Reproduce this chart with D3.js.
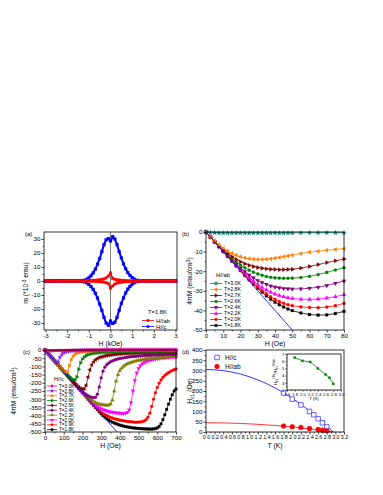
<!DOCTYPE html>
<html>
<head>
<meta charset="utf-8">
<script src="https://cdn.jsdelivr.net/npm/d3@7"></script>
<style>
  body { margin: 0; background: #fff; }
  svg { display: block; }
</style>
</head>
<body>
<svg id="fig" width="383" height="495"></svg>
<script>
// ---------- panel (a): m vs H at 1.8 K ----------
const hA = [-3,-2.9,-2.8,-2.7,-2.6,-2.5,-2.4,-2.3,-2.2,-2.1,-2,-1.9,-1.8,-1.7,-1.6,-1.5,-1.4,-1.3,-1.2,-1.1,
  -1,-0.9,-0.8,-0.7,-0.6,-0.5,-0.4,-0.3,-0.2,-0.1,0,0.1,0.2,0.3,0.4,0.5,0.6,0.7,0.8,0.9,
  1,1.1,1.2,1.3,1.4,1.5,1.6,1.7,1.8,1.9,2,2.1,2.2,2.3,2.4,2.5,2.6,2.7,2.8,2.9,3];
const mBlueUp = [0,0,0,0,0,0,0,0,0,0,0,0,0,0,0,0,0,
  0.2,0.5,1.2,2.3,3.8,5.8,8.5,12,16,21,26,29.5,30.3,
  28.6,
  31.6,30,26,21,16.5,12.2,8.8,6,4,2.5,1.3,0.6,0.2,
  0,0,0,0,0,0,0,0,0,0,0,0,0,0,0,0,0];
const mBlueDown = [0,0,0,0,0,0,0,0,0,0,0,0,0,0,0,0,0,
  -0.2,-0.6,-1.3,-2.5,-4,-6,-8.8,-12.2,-16.5,-21,-26,-30,-31.6,
  -28.6,
  -30.3,-29.5,-26,-21,-16,-12,-8.5,-5.8,-3.8,-2.3,-1.2,-0.5,-0.2,
  0,0,0,0,0,0,0,0,0,0,0,0,0,0,0,0,0];
const mRedUp = [0,0,0,0,0,0,0,0,0,0,0,0,0,0,0,0,0,0,0,0,
  0.2,0.3,0.4,0.5,0.7,0.9,1.1,1.5,2.2,3.5,
  5.8,
  1.8,1.2,0.9,0.7,0.5,0.4,0.3,0.2,0.1,0.1,
  0,0,0,0,0,0,0,0,0,0,0,0,0,0,0,0,0,0,0,0];
const mRedDown = [0,0,0,0,0,0,0,0,0,0,0,0,0,0,0,0,0,0,0,0,
  -0.1,-0.1,-0.2,-0.3,-0.4,-0.5,-0.7,-0.9,-1.2,-1.8,
  -5.2,
  -3.5,-2.2,-1.5,-1.1,-0.9,-0.7,-0.5,-0.4,-0.3,-0.2,
  0,0,0,0,0,0,0,0,0,0,0,0,0,0,0,0,0,0,0,0];
const ticksAx = [-3,-2,-1,0,1,2,3];
const ticksAy = [-30,-20,-10,0,10,20,30];

// ---------- panel (b): 4piM vs H, H//ab ----------
const hB = [0,2.5,5,7.5,10,12.5,15,17.5,20,22.5,25,27.5,30,32.5,35,37.5,40,42.5,45,47.5,50,55,60,65,70,75,80];
const mB30 = [0,-0.3,-0.4,-0.5,-0.5,-0.5,-0.5,-0.5,-0.5,-0.5,-0.5,-0.5,-0.5,-0.5,-0.5,-0.5,-0.5,-0.5,-0.5,-0.5,-0.5,-0.4,-0.4,-0.4,-0.4,-0.4,-0.4];
const mB28 = [0,-2.4,-4.6,-6.5,-8.2,-9.6,-10.8,-11.8,-12.6,-13.2,-13.6,-13.9,-14,-14,-13.9,-13.7,-13.4,-13,-12.6,-12.2,-11.8,-11,-10.3,-9.8,-9.3,-8.9,-8.5];
const mB27 = [0,-2.5,-4.9,-7.1,-9.2,-11,-12.6,-14,-15.2,-16.2,-17,-17.6,-18.1,-18.5,-18.8,-19,-19.1,-19.2,-19.2,-19.1,-19,-18.4,-17.6,-16.6,-15.6,-14.7,-13.8];
const mB26 = [0,-2.5,-5,-7.3,-9.5,-11.6,-13.5,-15.3,-16.9,-18.3,-19.5,-20.5,-21.4,-22.1,-22.7,-23.1,-23.4,-23.5,-23.6,-23.6,-23.5,-23.2,-22.6,-21.7,-20.6,-19.4,-18.2];
const mB24 = [0,-2.5,-5,-7.4,-9.8,-12.1,-14.3,-16.4,-18.4,-20.2,-21.9,-23.4,-24.7,-25.8,-26.7,-27.5,-28.1,-28.5,-28.8,-29,-29.1,-29,-28.7,-28.2,-27.3,-26.2,-25];
const mB22 = [0,-2.5,-5,-7.5,-9.9,-12.3,-14.6,-16.9,-19.1,-21.2,-23.2,-25.1,-26.8,-28.3,-29.6,-30.7,-31.6,-32.4,-33,-33.5,-33.9,-34.3,-34.4,-34.2,-33.7,-33,-32];
const mB20 = [0,-2.5,-5,-7.5,-10,-12.4,-14.8,-17.2,-19.5,-21.8,-24,-26.1,-28.1,-29.9,-31.6,-33.1,-34.4,-35.5,-36.4,-37.1,-37.6,-38.2,-38.5,-38.6,-38.3,-37.6,-36.4];
const mB18 = [0,-2.5,-5,-7.5,-10,-12.5,-14.9,-17.3,-19.7,-22.1,-24.4,-26.6,-28.7,-30.7,-32.6,-34.3,-35.8,-37.1,-38.3,-39.3,-40.1,-41.3,-42.1,-42.4,-42.3,-41.6,-40.5];
const meissnerB = { h: [0, 50], m: [0, -50] };
const ticksBx = [0,10,20,30,40,50,60,70,80];
const ticksBy = [0,-10,-20,-30,-40,-50];

// ---------- panel (c): 4piM vs H, H//c ----------
const hC = [0,10,20,30,40,50,60,70,80,90,100,110,120,130,140,150,160,170,180,190,200,210,220,230,240,250,
  260,270,280,290,300,310,320,330,340,350,360,370,380,390,400,410,420,430,440,450,460,470,480,490,500,
  510,520,530,540,550,560,570,580,590,600,610,620,630,640,650,660,670,680,690,700];
const mC30 = [0,-4,-5,-5,-5,-4,-4,-3,-3,-3,-3,
  -2,-2,-2,-2,-2,-2,-2,-2,-2,-2,
  -1,-1,-1,-1,-1,-1,-1,-1,-1,-1,
  0,0,0,0,0,0,0,0,0,0,0,0,0,0,0,0,0,0,0,0,0,0,0,0,0,0,0,0,0,0,0,0,0,0,0,0,0,0,0,0];
const mC28 = [0,-13,-26,-39,-51,-63,-76,-72,-45,-27,-17,-12,-9,-7,-5,-4,-3,-3,-2,-2,-2,
  -1,-1,-1,-1,-1,-1,-1,-1,-1,-1,
  0,0,0,0,0,0,0,0,0,0,0,0,0,0,0,0,0,0,0,0,0,0,0,0,0,0,0,0,0,0,0,0,0,0,0,0,0,0,0,0];
const mC27 = [0,-13,-26,-39,-52,-65,-78,-91,-103,-115,-126,-136,-132,-95,-58,-38,-27,-20,-16,-13,-11,-9,-8,-7,-6,-6,-5,-5,
  -4,-4,-4,-4,-4,-4,-4,-4,-4,
  -3,-3,-3,-3,-3,-3,-3,-3,-3,-3,-3,-3,-3,-3,-3,
  -2,-2,-2,-2,-2,-2,-2,-2,-2,-2,-2,-2,-2,-2,-2,-2,-2,-2,-2];
const mC26 = [0,-13,-26,-39,-52,-65,-78,-91,-104,-117,-129,
  -140,-152,-163,-174,-182,-183,-165,-118,-78,-55,-42,-34,-29,-25,-22,-20,-18,-17,-16,-15,
  -14,-14,-13,-13,-12,-12,-11,-11,-11,-10,
  -10,-10,-9,-9,-9,-9,-9,-8,-8,-8,-8,-8,-8,-7,-7,
  -7,-7,-7,-7,-7,-6,-6,-6,-6,-6,-6,-6,-6,-6,-6];
const mC25 = [0,-13,-26,-39,-52,-65,-78,-91,-104,-117,-130,-143,-156,-169,-182,
  -193,-204,-215,-225,-233,-238,-236,-215,-165,-120,-90,-72,-60,-52,-46,-42,
  -39,-36,-34,-32,-30,-29,-27,-26,-25,-24,
  -23,-22,-21,-21,-20,-19,-19,-18,-18,-17,-17,-16,-16,-15,-15,
  -15,-14,-14,-14,-13,-13,-13,-12,-12,-12,-12,-11,-11,-11,-11];
const mC24 = [0,-13,-26,-39,-52,-65,-78,-91,-104,-117,-130,-143,-156,-169,-182,-195,-208,-221,
  -233,-244,-255,-264,-272,-279,-285,-289,-291,-288,-270,-225,-170,-130,-105,-90,-80,-72,
  -67,-62,-58,-55,-52,-50,-48,-46,-44,-42,-41,-40,-39,-38,-37,
  -36,-35,-34,-34,-33,-32,-32,-31,-31,-30,-30,-29,-29,-28,-28,-28,-27,-27,-27,-26];
const mC22 = [0,-13,-26,-39,-52,-65,-78,-91,-104,-117,-130,-143,-156,-169,-182,-195,-208,-221,-234,-247,-260,
  -271,-281,-291,-300,-308,-315,-321,-326,-330,-333,-335,-336,-337,-336,-330,-305,-250,-190,-150,-125,
  -110,-99,-91,-85,-80,-76,-72,-69,-66,-63,-61,-59,-57,-55,-53,
  -52,-51,-50,-49,-48,-47,-46,-45,-44,-43,-42,-42,-41,-40,-40];
const mC20 = [0,-13,-26,-39,-52,-65,-78,-91,-104,-117,-130,-143,-156,-169,-182,-195,-208,-221,-234,-247,-260,-273,-286,-299,
  -310,-320,-329,-337,-344,-351,-357,-362,-367,-371,-374,-377,-379,-381,-383,-384,-385,-386,-386,-385,
  -380,-365,-320,-250,-185,-140,-112,
  -95,-84,-76,-70,-66,-62,-59,-57,-55,-53,-51,-50,-49,-48,-47,-46,-45,-44,-43,-43];
const mC19 = [0,-13,-26,-39,-52,-65,-78,-91,-104,-117,-130,-143,-156,-169,-182,-195,-208,-221,-234,-247,-260,-273,-286,-299,-312,-325,-338,
  -350,-361,-371,-380,-388,-395,-401,-406,-411,-415,
  -419,-422,-425,-428,-430,-432,-434,-436,-437,-438,
  -439,-440,-440,-440,-439,-437,-433,-425,-410,-385,
  -345,-300,-260,-228,-203,-183,-168,-156,-146,-138,
  -131,-125,-120,-116];
const mC18 = [0,-13,-26,-39,-52,-65,-78,-91,-104,-117,-130,-143,-156,-169,-182,-195,-208,-221,-234,-247,-260,-273,-286,-299,-312,-325,-338,-351,-364,-377,
  -389,-400,-410,-419,-427,-434,-440,-445,-450,-454,
  -458,-461,-464,-467,-469,-471,-473,-475,-476,-477,
  -478,-479,-480,-481,-481,-482,-482,-482,-481,-479,
  -475,-466,-450,-425,-395,-362,-330,-300,-273,-250,
  -238];
const meissnerC = { h: [0, 385], m: [0, -500] };
const ticksCx = [0,100,200,300,400,500,600,700];
const ticksCy = [0,-50,-100,-150,-200,-250,-300,-350,-400,-450,-500];

// ---------- panel (d): Hc1 vs T ----------
const tHc = [1.8,2.0,2.2,2.4,2.5,2.6,2.7,2.8];
const hc1C = [190,160,132,100,84,65,45,25];
const tHab = [1.8,2.0,2.2,2.4,2.6,2.7,2.8];
const hc1Ab = [29,26,22,17,12,9,6];
const tFit = [0,0.4,0.8,1.2,1.6,2.0,2.4,2.6,2.8,2.95];
const fitC = [305,299.4,282.6,254.5,215.3,164.8,103.1,68.1,30.2,0];
const fitAb = [45,44.2,41.7,37.6,31.8,24.3,15.2,10,4.5,0];
const ticksDx = [0,0.2,0.4,0.6,0.8,1.0,1.2,1.4,1.6,1.8,2.0,2.2,2.4,2.6,2.8,3.0,3.2];
const ticksDy = [0,50,100,150,200,250,300,350,400];
// inset: anisotropy ratio
const tRatio = [1.8,2.0,2.2,2.4,2.6,2.7,2.8];
const ratio = [6.5,6.05,5.9,5.0,4.15,3.7,2.85];
const ticksIx = [1.6,1.8,2.0,2.2,2.4,2.6,2.8,3.0];
const ticksIy = [2,3,4,5,6,7];

const FONT = "'Liberation Sans', Arial, sans-serif";
const svg = d3.select("#fig");

// scales
const xA = d3.scaleLinear().domain([-3.07, 3.07]).range([44, 177]);
const yA = d3.scaleLinear().domain([-35, 35]).range([330, 232]);
const xB = d3.scaleLinear().domain([0, 80]).range([206, 344]);
const yB = d3.scaleLinear().domain([-50, 0]).range([330, 232]);
const xC = d3.scaleLinear().domain([0, 700]).range([45, 176]);
const yC = d3.scaleLinear().domain([-500, 0]).range([432, 350]);
const xD = d3.scaleLinear().domain([0, 3.2]).range([206, 344]);
const yD = d3.scaleLinear().domain([0, 400]).range([432, 350]);
const xI = d3.scaleLinear().domain([1.6, 3.0]).range([287, 341]);
const yI = d3.scaleLinear().domain([2, 7]).range([390, 354]);

function minorOf(ticks) {
  const out = [];
  for (let i = 0; i < ticks.length - 1; i++) out.push((ticks[i] + ticks[i + 1]) / 2);
  return out;
}

function axes(x, y, xt, yt, opt = {}) {
  const fs = opt.fs || 6.2;
  const bottom = y.range()[0], left = x.range()[0];
  const parts = [
    svg.append("g").attr("transform", `translate(0,${bottom})`)
      .call(d3.axisBottom(x).tickValues(xt).tickSize(opt.tick || 2.6).tickSizeOuter(0).tickPadding(1)
        .tickFormat(opt.xFmt || (d => d))),
    svg.append("g").attr("transform", `translate(0,${bottom})`)
      .call(d3.axisBottom(x).tickValues(minorOf(xt)).tickSize(opt.minor || 1.4).tickSizeOuter(0).tickFormat("")),
    svg.append("g").attr("transform", `translate(${left},0)`)
      .call(d3.axisLeft(y).tickValues(yt).tickSize(opt.tick || 2.6).tickSizeOuter(0).tickPadding(1)
        .tickFormat(opt.yFmt || (d => d))),
    svg.append("g").attr("transform", `translate(${left},0)`)
      .call(d3.axisLeft(y).tickValues(minorOf(yt)).tickSize(opt.minor || 1.4).tickSizeOuter(0).tickFormat(""))
  ];
  parts.forEach(g => {
    g.attr("font-size", fs).attr("font-family", FONT);
    g.select(".domain").remove();
    g.selectAll("line").attr("stroke", "#000").attr("stroke-width", 0.7);
    g.selectAll("text").attr("fill", "#000");
  });
  if (opt.xFs) parts[0].attr("font-size", opt.xFs);
  svg.append("rect")
    .attr("x", x.range()[0]).attr("y", y.range()[1])
    .attr("width", x.range()[1] - x.range()[0])
    .attr("height", y.range()[0] - y.range()[1])
    .attr("fill", "none").attr("stroke", "#000").attr("stroke-width", 0.8);
}

const rot = { triUp: 0, triDown: 180, triLeft: -90, triRight: 90 };
function symType(shape) {
  if (shape.startsWith("tri")) return d3.symbolTriangle;
  return { square: d3.symbolSquare, circle: d3.symbolCircle, star: d3.symbolStar, diamond: d3.symbolDiamond }[shape];
}

function series(xs, ys, x, y, s) {
  const pts = xs.map((v, i) => [v, ys[i]]);
  const g = svg.append("g");
  if (s.lw !== 0) {
    g.append("path").datum(pts)
      .attr("fill", "none").attr("stroke", s.color).attr("stroke-width", s.lw || 0.8)
      .attr("d", d3.line().x(d => x(d[0])).y(d => y(d[1])).curve(s.curve || d3.curveLinear));
  }
  if (s.shape) {
    g.selectAll(null).data(pts).enter().append("path")
      .attr("d", d3.symbol().type(symType(s.shape)).size(s.size || 8))
      .attr("transform", d => `translate(${x(d[0])},${y(d[1])}) rotate(${rot[s.shape] || 0})`)
      .attr("fill", s.open ? "#fff" : s.color)
      .attr("stroke", s.color).attr("stroke-width", s.open ? 0.8 : 0.2);
  }
}

function legendItem(x, y, s, label, len, fs, size) {
  svg.append("line").attr("x1", x).attr("x2", x + len).attr("y1", y).attr("y2", y)
    .attr("stroke", s.color).attr("stroke-width", 0.8);
  svg.append("path").attr("d", d3.symbol().type(symType(s.shape)).size(size || 7)())
    .attr("transform", `translate(${x + len / 2},${y}) rotate(${rot[s.shape] || 0})`)
    .attr("fill", s.color).attr("stroke", s.color).attr("stroke-width", 0.2);
  svg.append("text").attr("x", x + len + 2).attr("y", y + fs * 0.36).attr("font-size", fs)
    .attr("font-family", FONT).text(label);
}

function text(x, y, str, fs, anchor = "start") {
  return svg.append("text").attr("x", x).attr("y", y).attr("font-size", fs)
    .attr("font-family", FONT).attr("text-anchor", anchor).text(str);
}

function yTitle(x, yc, build, fs = 6.8) {
  const t = svg.append("text").attr("transform", `translate(${x},${yc}) rotate(-90)`)
    .attr("text-anchor", "middle").attr("font-size", fs).attr("font-family", FONT);
  build(t);
  return t;
}

function emuTitle(t) {
  t.append("tspan").text("4\u03c0M (emu/cm");
  t.append("tspan").attr("dy", -2.4).attr("font-size", 4.8).text("3");
  t.append("tspan").attr("dy", 2.4).text(")");
}

// ================= panel (a) =================
svg.append("line").attr("x1", xA(0)).attr("x2", xA(0)).attr("y1", yA(35)).attr("y2", yA(-35))
  .attr("stroke", "#808080").attr("stroke-width", 1);
const blueA = { color: "#0000FF", shape: "square", size: 9, lw: 2 };
const redA = { color: "#FF0000", shape: "square", size: 7, lw: 1.6 };
series(hA, mBlueUp, xA, yA, blueA);
series(hA, mBlueDown, xA, yA, blueA);
series(hA, mRedUp, xA, yA, redA);
series(hA, mRedDown, xA, yA, redA);
axes(xA, yA, ticksAx, ticksAy);
text(148, 314, "T=1.8K", 5.8);
legendItem(142, 320.5, { color: "#FF0000", shape: "square" }, "H//ab", 12, 5.8, 6);
legendItem(142, 326.5, { color: "#0000FF", shape: "square" }, "H//c", 12, 5.8, 6);
text(25, 236, "(a)", 6);
text(110.5, 345.5, "H (kOe)", 6.8, "middle");
yTitle(28, 283, t => {
  t.append("tspan").text("m (*10");
  t.append("tspan").attr("dy", -2.4).attr("font-size", 4.8).text("-3");
  t.append("tspan").attr("dy", 2.4).text(" emu)");
});

// ================= panel (b) =================
const bStyle = [
  { label: "T=3.0K", color: "#008080", shape: "star", m: mB30 },
  { label: "T=2.8K", color: "#FF8000", shape: "triLeft", m: mB28 },
  { label: "T=2.7K", color: "#800000", shape: "triRight", m: mB27 },
  { label: "T=2.6K", color: "#008000", shape: "circle", m: mB26 },
  { label: "T=2.4K", color: "#800080", shape: "triDown", m: mB24 },
  { label: "T=2.2K", color: "#FF00FF", shape: "triUp", m: mB22 },
  { label: "T=2.0K", color: "#FF0000", shape: "circle", m: mB20 },
  { label: "T=1.8K", color: "#000000", shape: "square", m: mB18 }
];
bStyle.slice().reverse().forEach(s => series(hB, s.m, xB, yB, { ...s, size: 8 }));
series(meissnerB.h, meissnerB.m, xB, yB, { color: "#0000FF", lw: 0.8 });
axes(xB, yB, ticksBx, ticksBy);
text(216, 277, "H//ab", 5.8);
bStyle.forEach((s, i) => legendItem(210, 283.5 + i * 6, s, s.label, 12, 5.2));
text(182, 236, "(b)", 6);
text(275, 345.5, "H (Oe)", 6.8, "middle");
yTitle(192, 281, emuTitle);

// ================= panel (c) =================
const cStyle = [
  { label: "T=3.0K", color: "#FF0080", shape: "square", m: mC30 },
  { label: "T=2.8K", color: "#8A2BE2", shape: "star", m: mC28 },
  { label: "T=2.7K", color: "#FF8000", shape: "square", m: mC27 },
  { label: "T=2.6K", color: "#008000", shape: "triRight", m: mC26 },
  { label: "T=2.5K", color: "#800000", shape: "triLeft", m: mC25 },
  { label: "T=2.4K", color: "#800080", shape: "circle", m: mC24 },
  { label: "T=2.2K", color: "#808000", shape: "triUp", m: mC22 },
  { label: "T=2.0K", color: "#FF00FF", shape: "triDown", m: mC20 },
  { label: "T=1.9K", color: "#FF0000", shape: "circle", m: mC19 },
  { label: "T=1.8K", color: "#000000", shape: "square", m: mC18 }
];
cStyle.slice().reverse().forEach(s => series(hC, s.m, xC, yC, { ...s, size: 7 }));
series(meissnerC.h, meissnerC.m, xC, yC, { color: "#0000FF", lw: 0.8 });
axes(xC, yC, ticksCx, ticksCy);
text(54, 381, "H//c", 5.5);
cStyle.forEach((s, i) => legendItem(47, 386 + i * 4.85, s, s.label, 10, 4.7, 5));
text(23, 354, "(c)", 6);
text(110.5, 448, "H (Oe)", 6.8, "middle");
yTitle(16, 391, emuTitle);

// ================= panel (d) =================
series(tFit, fitC, xD, yD, { color: "#0000FF", lw: 0.8, curve: d3.curveMonotoneX });
series(tFit, fitAb, xD, yD, { color: "#FF0000", lw: 0.8, curve: d3.curveMonotoneX });
series(tHc, hc1C, xD, yD, { color: "#4040FF", shape: "square", size: 20, open: true, lw: 0 });
series(tHab, hc1Ab, xD, yD, { color: "#FF0000", shape: "circle", size: 20, lw: 0 });
axes(xD, yD, ticksDx, ticksDy, { xFmt: d3.format(".1f"), xFs: 5.4 });
svg.append("path").attr("d", d3.symbol().type(d3.symbolSquare).size(20)())
  .attr("transform", "translate(217,357.5)").attr("fill", "#fff").attr("stroke", "#4040FF").attr("stroke-width", 0.8);
text(225, 360, "H//c", 6.5);
svg.append("path").attr("d", d3.symbol().type(d3.symbolCircle).size(20)())
  .attr("transform", "translate(217,366.5)").attr("fill", "#FF0000");
text(225, 369, "H//ab", 6.5);
text(182, 354, "(d)", 6);
text(275, 448, "T (K)", 6.8, "middle");
yTitle(192, 391, t => {
  t.append("tspan").text("H");
  t.append("tspan").attr("dy", 1.8).attr("font-size", 4.8).text("c1");
  t.append("tspan").attr("dy", -1.8).text(" (Oe)");
});

// inset
svg.append("rect").attr("x", 287).attr("y", 354).attr("width", 54).attr("height", 36).attr("fill", "#fff");
series(tRatio, ratio, xI, yI, { color: "#008000", shape: "square", size: 5, lw: 0.8 });
axes(xI, yI, ticksIx, ticksIy, { xFmt: d3.format(".1f"), fs: 4.3, tick: 1.6, minor: 0.9 });
text(314, 400, "T (K)", 4.3, "middle");
yTitle(276.5, 372, t => {
  t.append("tspan").text("H");
  t.append("tspan").attr("dy", 1.1).attr("font-size", 3).text("c1");
  t.append("tspan").attr("dy", -2.4).attr("font-size", 3).text("H//c");
  t.append("tspan").attr("dy", 1.3).text("/H");
  t.append("tspan").attr("dy", 1.1).attr("font-size", 3).text("c1");
  t.append("tspan").attr("dy", -2.4).attr("font-size", 3).text("H//ab");
}, 4.3);
</script>
</body>
</html>
